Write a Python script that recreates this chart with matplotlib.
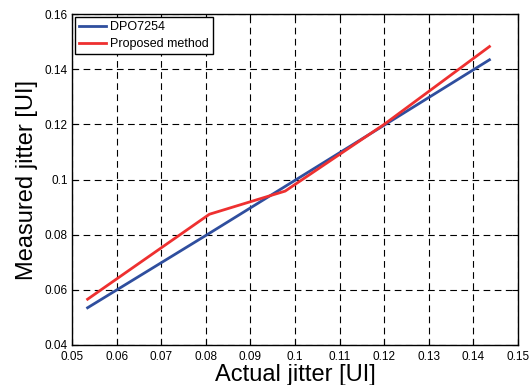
import matplotlib
matplotlib.use("Agg")
import matplotlib.pyplot as plt

# data
actual_jitter = [0.0535, 0.0808, 0.0978, 0.1200, 0.1436]
dpo7254 = [0.0535, 0.0805, 0.0975, 0.1197, 0.1434]
proposed = [0.0566, 0.0874, 0.0958, 0.1200, 0.1482]

x_ticks = [0.05, 0.06, 0.07, 0.08, 0.09, 0.10, 0.11, 0.12, 0.13, 0.14, 0.15]
x_labels = ["0.05", "0.06", "0.07", "0.08", "0.09", "0.1", "0.11", "0.12", "0.13", "0.14", "0.15"]
y_ticks = [0.04, 0.06, 0.08, 0.10, 0.12, 0.14, 0.16]
y_labels = ["0.04", "0.06", "0.08", "0.1", "0.12", "0.14", "0.16"]

plt.rcParams['font.family'] = ['Liberation Sans', 'DejaVu Sans']

fig = plt.figure(figsize=(5.32, 3.85), dpi=100)
ax = fig.add_axes([0.1353, 0.1039, 0.8384, 0.8597])

ax.plot(actual_jitter, dpo7254, color='#2f4e9e', lw=2.0, label='DPO7254')
ax.plot(actual_jitter, proposed, color='#ee3030', lw=2.0, label='Proposed method')

ax.set_xlim(0.05, 0.15)
ax.set_ylim(0.04, 0.16)
ax.set_xticks(x_ticks)
ax.set_xticklabels(x_labels)
ax.set_yticks(y_ticks)
ax.set_yticklabels(y_labels)
ax.tick_params(direction='in', top=True, right=True, labelsize=8.5, length=4)
ax.tick_params(axis='x', pad=4)
ax.tick_params(axis='y', pad=3)
ax.grid(True, color='black', linestyle=(0, (6, 4)), lw=0.8)

for s in ax.spines.values():
    s.set_linewidth(1.0)

ax.set_xlabel("Actual jitter [UI]", fontsize=17, labelpad=1)
ax.set_ylabel("Measured jitter [UI]", fontsize=17, labelpad=5)

leg = ax.legend(loc='upper left', fontsize=9, handlelength=2.2, handletextpad=0.3,
                borderpad=0.3, labelspacing=0.4, fancybox=False, framealpha=1,
                borderaxespad=0.25)
leg.get_frame().set_edgecolor('black')
leg.get_frame().set_linewidth(1.0)

fig.savefig("out.png", dpi=100)
